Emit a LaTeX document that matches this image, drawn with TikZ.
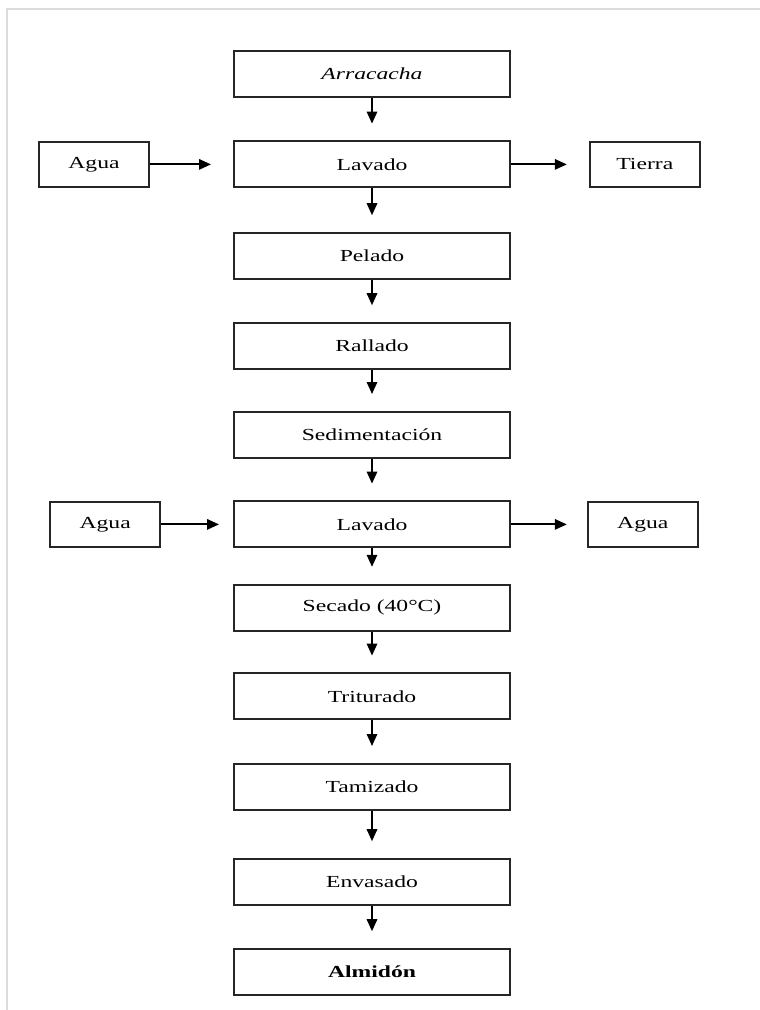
\documentclass[tikz,border=0pt]{standalone}
\usepackage{fontspec}
\setmainfont{Liberation Serif}[FakeStretch=1.4]
\usetikzlibrary{arrows.meta}

\begin{document}
\begin{tikzpicture}[font=\fontsize{12}{14}\selectfont,
    stepbox/.style={draw=black!85, line width=1.4pt, minimum width=6.9cm, minimum height=1.15cm, inner sep=0pt},
    sidebox/.style={draw=black!85, line width=1.4pt, minimum width=2.75cm, minimum height=1.13cm, inner sep=0pt},
    flow/.style={-{Triangle[length=3mm,width=2.6mm]}, line width=1.3pt}]
    % Frame
    \useasboundingbox (0,0) rectangle (19,25.25);
    \draw[black!14, line width=1.4pt] (0.175,0) -- (0.175,25.025) -- (19,25.025);

    % --- Main column ---
    \node[stepbox] (raiz) at (9.3,23.41) {\textit{Arracacha}};
    \node[stepbox] (lavado1) at (9.3,21.14) {Lavado};
    \node[stepbox] (pelado) at (9.3,18.85) {Pelado};
    \node[stepbox] (rallado) at (9.3,16.6) {Rallado};
    \node[stepbox] (sedim) at (9.3,14.38) {Sedimentación};
    \node[stepbox] (lavado2) at (9.3,12.14) {Lavado};
    \node[stepbox] (secado) at (9.3,10.06) {Secado (40°C)};
    \node[stepbox] (triturado) at (9.3,7.84) {Triturado};
    \node[stepbox] (tamizado) at (9.3,5.58) {Tamizado};
    \node[stepbox] (envasado) at (9.3,3.2) {Envasado};
    \node[stepbox] (almidon) at (9.3,0.95) {\textbf{Almidón}};

    % --- Side boxes ---
    \node[sidebox] (agua1) at (2.35,21.14) {Agua};
    \node[sidebox] (tierra) at (16.12,21.14) {Tierra};
    \node[sidebox] (agua2) at (2.63,12.14) {Agua};
    \node[sidebox] (aguaout) at (16.07,12.14) {Agua};

    % --- Arrows ---
    \foreach \a/\b in {raiz/lavado1, lavado1/pelado, pelado/rallado, rallado/sedim,
                       sedim/lavado2, lavado2/secado, secado/triturado,
                       triturado/tamizado, tamizado/envasado, envasado/almidon}
        \draw[flow, shorten >=0.42cm] (\a) -- (\b);

    \draw[flow, shorten >=0.55cm] (agua1) -- (lavado1);
    \draw[flow, shorten >=0.55cm] (lavado1) -- (tierra);
    \draw[flow, shorten >=0.35cm] (agua2) -- (lavado2);
    \draw[flow, shorten >=0.5cm] (lavado2) -- (aguaout);
\end{tikzpicture}
\end{document}
